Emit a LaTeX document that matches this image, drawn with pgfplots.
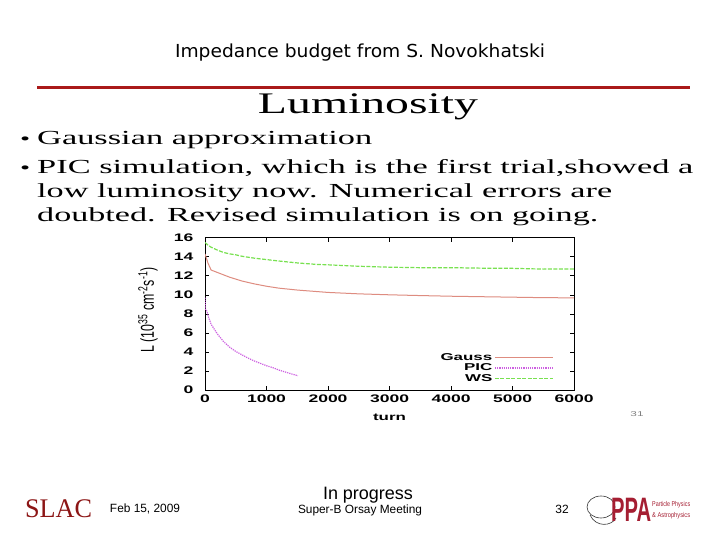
\documentclass[border=0pt]{standalone}
\usepackage{pgfplots}
\pgfplotsset{compat=1.18}
\usepackage{fontspec}
\usepackage{graphicx}
\setmainfont{Liberation Serif}
\newfontfamily\arial{Liberation Sans}
\newfontfamily\comic{DejaVu Sans}

\definecolor{gausscol}{RGB}{222,140,128}
\definecolor{piccol}{RGB}{205,95,225}
\definecolor{wscol}{RGB}{120,225,80}
\definecolor{slidered}{RGB}{170,25,25}
\definecolor{slacred}{RGB}{140,21,21}
\definecolor{ppared}{RGB}{165,30,50}

% the pasted slide picture is stretched sideways
\newcommand\sx[1]{\scalebox{1.7}[1]{#1}}
\newcommand\sxt[1]{\scalebox{1.6}[1]{#1}}

\begin{document}
\begin{tikzpicture}[x=1bp,y=1bp]
\useasboundingbox (0,0) rectangle (720,540);
\fill[white] (0,0) rectangle (720,540);

% slide title
\node[anchor=base] at (360,482) {\resizebox{370bp}{\height}{\comic\fontsize{18}{22}\selectfont Impedance budget from S. Novokhatski}};

% pasted slide
\draw[line width=3bp, slidered] (37,452) -- (690,452);
\node[anchor=base] at (368,426) {\resizebox{220bp}{\height}{\fontsize{30}{36}\selectfont Luminosity}};
\node[anchor=base west, inner sep=0] at (20,395) {\sx{\fontsize{17}{24}\selectfont\textbullet}};
\node[anchor=base west, inner sep=0] at (37,395) {\resizebox{335bp}{\height}{\fontsize{20}{24}\selectfont Gaussian approximation}};
\node[anchor=base west, inner sep=0] at (20,366) {\sx{\fontsize{17}{24}\selectfont\textbullet}};
\node[anchor=base west, inner sep=0] at (37,366) {\resizebox{656bp}{\height}{\fontsize{20}{24}\selectfont PIC simulation, which is the first trial,showed a}};
\node[anchor=base west, inner sep=0] at (37,342) {\resizebox{575bp}{\height}{\fontsize{20}{24}\selectfont low luminosity now. Numerical errors are}};
\node[anchor=base west, inner sep=0] at (37,318) {\resizebox{561bp}{\height}{\fontsize{20}{24}\selectfont doubted. Revised simulation is on going.}};

\begin{axis}[
    at={(205bp,150bp)}, anchor=south west,
    scale only axis, width=369bp, height=152.3bp,
    xmin=0, xmax=6000, ymin=0, ymax=16,
    xtick={0,1000,...,6000}, ytick={0,2,...,16},
    tick align=inside, major tick length=4bp,
    tick style={black, line width=0.6bp},
    axis line style={black, line width=0.8bp},
    tick label style={font=\arial\bfseries\fontsize{11}{13}\selectfont},
    label style={font=\arial\bfseries\fontsize{10}{12}\selectfont},
    /pgf/number format/assume math mode=true,
    /pgf/number format/1000 sep={},
    xticklabel={\sxt{\pgfmathprintnumber{\tick}}},
    yticklabel={\sxt{\pgfmathprintnumber{\tick}}},
    yticklabel style={xshift=-8bp},
    xticklabel style={yshift=-1bp},
    xlabel={\sx{turn}},
    xlabel style={at={(axis description cs:0.5,-0.178)}, anchor=center},
    legend style={draw=none, fill=none, at={(0.945,0.255)}, anchor=north east,
        font=\arial\bfseries\fontsize{10}{12}\selectfont, row sep=-2bp, inner sep=0pt},
    legend plot pos=right, legend cell align=right,
    legend image code/.code={\draw[#1] (0bp,0bp) -- (58bp,0bp);},
]
\addplot[gausscol, line width=1bp] coordinates {
(0,14.3) (20,13.9) (50,13.3) (100,12.6) (200,12.35) (300,12.1) (400,11.85)
(500,11.65) (600,11.45) (700,11.3) (800,11.15) (1000,10.9) (1200,10.7)
(1500,10.5) (1800,10.35) (2000,10.25) (2500,10.1) (3000,10.0) (3500,9.92)
(4000,9.85) (4500,9.8) (5000,9.75) (5500,9.7) (6000,9.68)};
\addlegendentry{\sx{Gauss}}
\addplot[piccol, densely dotted, line width=1.2bp] coordinates {
(0,9.7) (8,8.4) (30,8.3) (60,7.6) (100,6.9) (200,5.9) (300,5.1) (400,4.5)
(500,4.05) (600,3.7) (700,3.35) (800,3.05) (900,2.8) (1000,2.55) (1100,2.35)
(1200,2.1) (1300,1.9) (1400,1.7) (1510,1.5)};
\addlegendentry{\sx{PIC}}
\addplot[wscol, dash pattern=on 4bp off 1.5bp, line width=1.2bp] coordinates {
(0,15.5) (50,15.2) (100,15.0) (200,14.7) (300,14.45) (400,14.3) (500,14.2)
(600,14.05) (800,13.85) (1000,13.7) (1200,13.55) (1500,13.35) (1800,13.2)
(2000,13.15) (2500,13.0) (3000,12.9) (3500,12.85) (4000,12.85) (4500,12.8)
(5000,12.78) (5500,12.7) (6000,12.72)};
\addlegendentry{\sx{WS}}
\end{axis}

\node[rotate=90] at (148,230) {\resizebox{85bp}{1.7\height}{\arial\fontsize{11}{13}\selectfont L (10\textsuperscript{35} cm\textsuperscript{-2}s\textsuperscript{-1})}};
\node[gray] at (637,126) {\sx{\arial\fontsize{7}{8}\selectfont 31}};

% footer
\node at (58.5,31) {\resizebox{67bp}{\height}{\color{slacred}\fontsize{27}{30}\selectfont SLAC}};
\node at (145,31) {\resizebox{70bp}{\height}{\arial\fontsize{12}{14}\selectfont Feb 15, 2009}};
\node at (368,45) {\resizebox{90bp}{\height}{\arial\fontsize{18}{20}\selectfont In progress}};
\node at (360,30) {\resizebox{124bp}{\height}{\arial\fontsize{12}{14}\selectfont Super-B Orsay Meeting}};
\node at (562,31) {\arial\fontsize{12}{14}\selectfont 32};
\draw[black!80, line width=0.6bp] (601,33) ellipse (14 and 11);
\draw[black!80, line width=0.6bp] (590,25) .. controls (596,12) and (612,14) .. (616,22);
\node[anchor=west, inner sep=0] at (611,30) {\resizebox{40bp}{\height}{\color{ppared}\arial\bfseries\fontsize{34}{36}\selectfont PPA}};
\node[anchor=west, inner sep=0] at (652,35) {\resizebox{38bp}{\height}{\color{ppared}\arial\fontsize{7}{8}\selectfont Particle Physics}};
\node[anchor=west, inner sep=0] at (652,24) {\resizebox{38bp}{\height}{\color{ppared}\arial\fontsize{7}{8}\selectfont \& Astrophysics}};
\end{tikzpicture}
\end{document}
